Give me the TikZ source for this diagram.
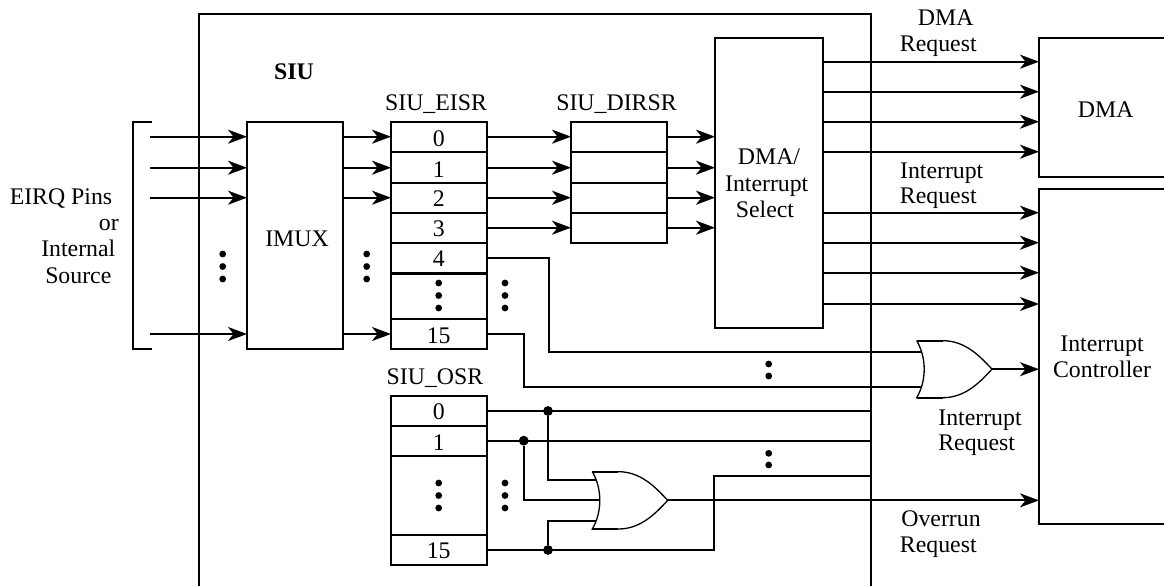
\documentclass[tikz,border=0pt]{standalone}
\usepackage{fontspec}
\setmainfont{Liberation Serif}
\usetikzlibrary{arrows.meta,calc}
\tikzset{
  wire/.style={line width=2pt},
  arr/.style={wire,-{Stealth[length=19pt,width=14pt,inset=5.5pt]}},
  boxn/.style={draw,line width=2.2pt,outer sep=0pt,inner sep=0pt,anchor=north west,fill=white},
  ghost/.style={outer sep=0pt,inner sep=0pt,anchor=north west},
  lab/.style={anchor=base,inner sep=0pt,font=\fontsize{23.8}{26}\selectfont},
  dotn/.style={circle,fill=black,inner sep=0pt,minimum size=6.8pt},
  junc/.style={circle,fill=black,inner sep=0pt,minimum size=9.8pt},
}
\newcommand{\rbox}[5]{\node[boxn,minimum width=#4pt,minimum height=#5pt] (#1) at (#2,#3) {};}
\newcommand{\vdotsat}[4]{%
  \node[dotn] (#1a) at (#2,#3) {};
  \node[dotn] (#1b) at (#2,#3+#4) {};
  \node[dotn] (#1c) at (#2,#3+2*#4) {};}
\begin{document}
\begin{tikzpicture}[x=1pt,y=-1pt]
\useasboundingbox (0,0) rectangle (1164,586);
% row coordinates
\coordinate (r0) at (0,136.7);
\coordinate (r1) at (0,167.7);
\coordinate (r2) at (0,197.7);
\coordinate (r3) at (0,227.7);
\coordinate (r4) at (0,258);
\coordinate (r15) at (0,334);
\coordinate (inS) at (150,0);
% outer SIU frame
\coordinate (fbl) at (199,586);
\coordinate (ftl) at (199,14);
\coordinate (ftr) at (870.7,14);
\coordinate (fbr) at (870.7,586);
% blocks
\rbox{imux}{247}{122}{96}{226.7}
\rbox{eisr0}{391}{122}{96}{30}
\rbox{eisr1}{391}{152}{96}{30.7}
\rbox{eisr2}{391}{182.7}{96}{30}
\rbox{eisr3}{391}{212.7}{96}{30.3}
\rbox{eisr4}{391}{243}{96}{30.3}
\rbox{eisrx}{391}{273.3}{96}{45.7}
\rbox{eisr15}{391}{319}{96}{29.7}
\rbox{dir0}{571}{122}{96}{30}
\rbox{dir1}{571}{152}{96}{30.7}
\rbox{dir2}{571}{182.7}{96}{30}
\rbox{dir3}{571}{212.7}{96}{30.3}
\rbox{sel}{715}{38.3}{108.3}{289.4}
\rbox{osr0}{391}{396}{96}{30}
\rbox{osr1}{391}{426}{96}{29.7}
\rbox{osrx}{391}{455.7}{96}{79.3}
\rbox{osr15}{391}{535}{96}{30}
\node[ghost,minimum width=125pt,minimum height=138.4pt] (dma) at (1039,38.3) {};
\node[ghost,minimum width=125pt,minimum height=334.7pt] (ic) at (1039,189) {};
\node[ghost,minimum width=19pt,minimum height=226.7pt] (brk) at (132.7,122) {};
\draw[line width=2.2pt] (dma.north east) -- (dma.north west) -- (dma.south west) -- (dma.south east);
\draw[line width=2.2pt] (ic.north east) -- (ic.north west) -- (ic.south west) -- (ic.south east);
\draw[line width=2.2pt] (brk.north east) -- (brk.north west) -- (brk.south west) -- (brk.south east);
% thicker dividers
\draw[line width=2.9pt] (eisr0.south west) -- (eisr0.south east);
\draw[line width=2.9pt] (eisr4.south west) -- (eisr4.south east);
\draw[line width=2.9pt] (dir0.south west) -- (dir0.south east);
% input arrows
\foreach \r/\c in {r0/eisr0,r1/eisr1,r2/eisr2,r15/eisr15}{
  \draw[arr] (inS |- \r) -- (imux.west |- \r);
  \draw[arr] (imux.east |- \r) -- (\c.west |- \r);
}
\foreach \r/\c/\d in {r0/eisr0/dir0,r1/eisr1/dir1,r2/eisr2/dir2,r3/eisr3/dir3}{
  \draw[arr] (\c.east |- \r) -- (\d.west |- \r);
  \draw[arr] (\d.east |- \r) -- (sel.west |- \r);
}
% selector outputs
\foreach \y in {61.7,91.7,121.7,151.7}{
  \coordinate (o) at (0,\y);
  \draw[arr] (sel.east |- o) -- (dma.west |- o);
}
\foreach \y in {212.7,242.7,272.7,304}{
  \coordinate (o) at (0,\y);
  \draw[arr] (sel.east |- o) -- (ic.west |- o);
}
% upper OR gate
\node[ghost,minimum width=75.3pt,minimum height=57pt] (or1) at (916.7,340.7) {};
\coordinate (i1a) at (922,352);
\coordinate (i1b) at (922,387);
\draw[wire] (eisr4.east |- r4) -- (549,258) -- (549,352) -- (i1a);
\draw[wire] (eisr15.east |- r15) -- (524,334) -- (524,387) -- (i1b);
\draw[arr] (or1.east) -- (ic.west |- or1.east);
% lower wires
\coordinate (ro0) at (0,411);
\coordinate (ro1) at (0,440.7);
\coordinate (ro15) at (0,550);
\node[junc] (j0) at (548,411) {};
\node[junc] (j1) at (523.7,440.7) {};
\node[junc] (j15) at (548,550) {};
\node[ghost,minimum width=75.4pt,minimum height=57.3pt] (or2) at (592.3,471.7) {};
\coordinate (frR) at (870.7,0);
\draw[wire] (osr0.east |- ro0) -- (frR |- ro0);
\draw[wire] (osr1.east |- ro1) -- (frR |- ro1);
\draw[wire] (osr15.east |- ro15) -- (714.3,550) -- (714.3,476) -- (870.7,476);
\draw[wire] (j0) -- (548,480) -- (598,480);
\draw[wire] (j1) -- (523.7,500.3) -- (601,500.3);
\draw[wire] (j15) -- (548,521) -- (598,521);
\draw[arr] (or2.east) -- (ic.west |- or2.east);
% frame
\draw[line width=2.1pt] (fbl) -- (ftl) -- (ftr) -- (fbr);
% gates
\foreach \g in {or1,or2}{
  \draw[line width=1.3pt,fill=white]
    (\g.north west) -- ($(\g.north west)+(26,0)$)
    .. controls +(22,0) and +(-13,-14) .. (\g.east)
    .. controls +(-13,14) and +(22,0) .. ($(\g.south west)+(26,0)$)
    -- (\g.south west)
    .. controls +(10,-17) and +(10,17) .. (\g.north west);
  \draw[line width=2pt] (\g.north west) -- ($(\g.north west)+(26,0)$);
  \draw[line width=2pt] (\g.south west) -- ($(\g.south west)+(26,0)$);
}
% dots
\vdotsat{d1}{222.7}{254}{12.5}
\vdotsat{d2}{366.7}{254}{12.5}
\vdotsat{d3}{438.7}{283}{12.5}
\vdotsat{d4}{505}{283}{12.5}
\vdotsat{d5}{438.7}{483}{12.5}
\vdotsat{d6}{505}{483}{12.5}
\node[dotn] (d7a) at (768.7,364) {};
\node[dotn] (d7b) at (768.7,376) {};
\node[dotn] (d8a) at (768.7,453.3) {};
\node[dotn] (d8b) at (768.7,465) {};
% labels
\node[lab] (t1) at (294,79.3) {\textbf{SIU}};
\node[lab] (t2) at (436,110) {SIU\_EISR};
\node[lab] (t3) at (616.5,110) {SIU\_DIRSR};
\node[lab] (t4) at (435,384) {SIU\_OSR};
\node[lab] (t5) at (297,246.7) {IMUX};
\node[lab] (n0) at (438.7,146.7) {0};
\node[lab] (n1) at (438.7,177) {1};
\node[lab] (n2) at (438.7,206.7) {2};
\node[lab] (n3) at (438.7,236.7) {3};
\node[lab] (n4) at (438.7,266.7) {4};
\node[lab] (n15) at (438.7,343) {15};
\node[lab] (m0) at (438.7,419.3) {0};
\node[lab] (m1) at (438.7,450.7) {1};
\node[lab] (m15) at (438.7,558) {15};
\node[lab] (s1) at (769,164) {DMA/};
\node[lab] (s2) at (766.7,191) {Interrupt};
\node[lab] (s3) at (765,217.7) {Select};
\node[lab] (e1) at (61,204) {EIRQ Pins};
\node[lab,anchor=base east] (e2) at (119,230.7) {or};
\node[lab] (e3) at (78.3,256.7) {Internal};
\node[lab] (e4) at (78.3,283.3) {Source};
\node[lab] (a1) at (945.7,26) {DMA};
\node[lab] (a2) at (938.3,51.7) {Request};
\node[lab] (b1) at (941.7,178.3) {Interrupt};
\node[lab] (b2) at (938.3,203.3) {Request};
\node[lab] (c1) at (980,425) {Interrupt};
\node[lab] (c2) at (976.7,450.7) {Request};
\node[lab] (f1) at (941,526) {Overrun};
\node[lab] (f2) at (938.3,552.3) {Request};
\node[lab] (g1) at (1102,351.7) {Interrupt};
\node[lab] (g2) at (1102,377.7) {Controller};
\node[lab] (h1) at (1105.7,117.3) {DMA};
\end{tikzpicture}
\end{document}
